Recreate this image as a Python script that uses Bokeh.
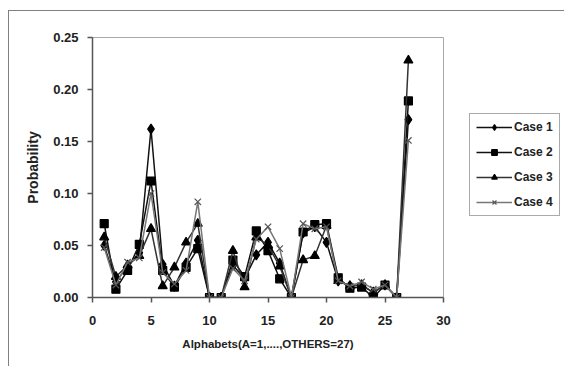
from bokeh.plotting import figure
from bokeh.models import Legend, LegendItem, FixedTicker, NumeralTickFormatter, Range1d
from bokeh.layouts import row
from bokeh.embed import file_html
from bokeh.resources import INLINE

x = list(range(1, 28))
case1 = [0.050, 0.015, 0.030, 0.043, 0.162, 0.032, 0.011, 0.033, 0.055, 0.0, 0.0, 0.031,
         0.018, 0.041, 0.053, 0.033, 0.0, 0.062, 0.068, 0.053, 0.016, 0.011, 0.012, 0.005,
         0.012, 0.0, 0.171]
case2 = [0.071, 0.008, 0.026, 0.051, 0.112, 0.026, 0.010, 0.029, 0.047, 0.0, 0.0, 0.036,
         0.020, 0.064, 0.045, 0.018, 0.0, 0.063, 0.070, 0.071, 0.019, 0.009, 0.010, 0.0,
         0.012, 0.0, 0.189]
case3 = [0.058, 0.020, 0.031, 0.040, 0.066, 0.011, 0.029, 0.053, 0.071, 0.0, 0.0, 0.045,
         0.010, 0.058, 0.050, 0.030, 0.0, 0.036, 0.040, 0.069, 0.016, 0.011, 0.012, 0.005,
         0.012, 0.0, 0.228]
case4 = [0.048, 0.012, 0.034, 0.038, 0.100, 0.024, 0.013, 0.026, 0.092, 0.0, 0.0, 0.028,
         0.016, 0.056, 0.068, 0.047, 0.0, 0.071, 0.066, 0.068, 0.016, 0.011, 0.015, 0.008,
         0.012, 0.0, 0.151]
labels = ["Case 1", "Case 2", "Case 3", "Case 4"]
x_ticks = [0, 5, 10, 15, 20, 25, 30]
y_ticks = [0.0, 0.05, 0.10, 0.15, 0.20, 0.25]

p = figure(width=460, height=355, output_backend="svg", toolbar_location=None,
           x_range=Range1d(0, 30), y_range=Range1d(0, 0.25),
           min_border_left=83, min_border_right=26, min_border_top=26, min_border_bottom=69)
p.xgrid.visible = False
p.ygrid.visible = False
p.outline_line_color = "#a8a8a8"
p.outline_line_width = 1

font = "Liberation Sans"
for ax in (p.xaxis, p.yaxis):
    ax.axis_line_color = "#555555"
    ax.axis_line_width = 1.5
    ax.major_tick_line_color = "#555555"
    ax.major_tick_line_width = 1.5
    ax.major_tick_in = 0
    ax.major_tick_out = 5
    ax.minor_tick_line_color = None
    ax.major_label_text_font = font
    ax.major_label_text_font_style = "bold"
    ax.major_label_text_font_size = "13px"
    ax.major_label_text_color = "#222222"
    ax.axis_label_text_font = font
    ax.axis_label_text_font_style = "bold"
    ax.axis_label_text_color = "#222222"

p.xaxis.ticker = FixedTicker(ticks=x_ticks)
p.yaxis.ticker = FixedTicker(ticks=y_ticks)
p.yaxis.formatter = NumeralTickFormatter(format="0.00")
p.xaxis.axis_label = "Alphabets(A=1,....,OTHERS=27)"
p.yaxis.axis_label = "Probability"
p.xaxis.axis_label_text_font_size = "11.5px"
p.yaxis.axis_label_text_font_size = "14px"
p.yaxis.axis_label_standoff = 9
p.xaxis.axis_label_standoff = 10
p.xaxis.major_label_standoff = 13
p.yaxis.major_label_standoff = 9

styles = [
    dict(line_color="#111111", marker="diamond", size=10, fill_color="black", mline="black"),
    dict(line_color="#111111", marker="square", size=8, fill_color="black", mline="black"),
    dict(line_color="#333333", marker="triangle", size=9, fill_color="black", mline="black"),
    dict(line_color="#777777", marker="x", size=9, fill_color=None, mline="#555555"),
]
series = [case1, case2, case3, case4]

# legend-only figure: the same series are drawn there, but outside its visible range
pl = figure(width=95, height=355, output_backend="svg", toolbar_location=None,
            x_range=Range1d(100, 101), y_range=Range1d(100, 101),
            min_border=0, x_axis_type=None, y_axis_type=None)
pl.xgrid.visible = False
pl.ygrid.visible = False
pl.outline_line_color = None

items = []
for lab, ys, st in zip(labels, series, styles):
    p.line(x, ys, line_color=st["line_color"], line_width=1.5)
    p.scatter(x, ys, marker=st["marker"], size=st["size"], fill_color=st["fill_color"],
              line_color=st["mline"], line_width=1.2)
    gl = pl.line(x, ys, line_color=st["line_color"], line_width=1.4)
    gm = pl.scatter(x, ys, marker=st["marker"], size=st["size"] - 2, fill_color=st["fill_color"],
                    line_color=st["mline"], line_width=1.2)
    items.append(LegendItem(label=lab, renderers=[gl, gm]))

legend = Legend(items=items, location=(0, 81), label_text_font=font,
                label_text_font_style="bold", label_text_font_size="12px",
                label_text_color="#222222", border_line_color="#555555",
                border_line_width=1.2, padding=6, spacing=11, glyph_width=36,
                glyph_height=14, label_height=14, label_standoff=2, margin=0,
                background_fill_alpha=1)
pl.add_layout(legend)

layout = row(p, pl, styles={"margin-left": "8px", "margin-top": "10px",
                            "border-left": "1px solid #808080",
                            "border-top": "1px solid #808080"})

open("out.html", "w").write(file_html(layout, INLINE))
